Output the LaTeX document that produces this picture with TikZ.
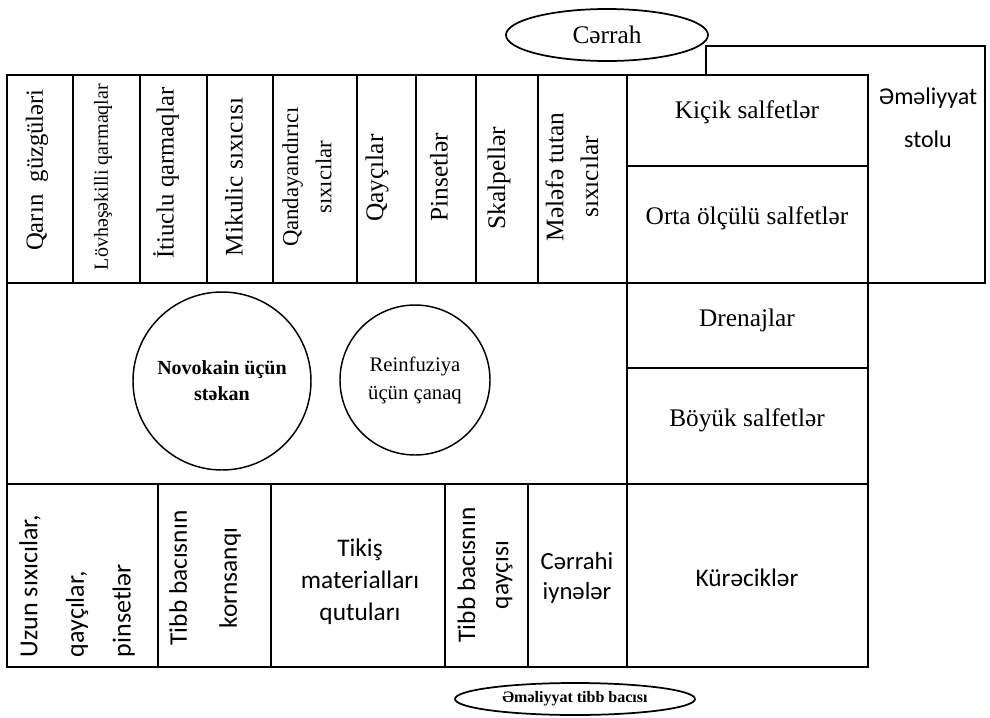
\documentclass[tikz,border=0pt]{standalone}
\usepackage{fontspec}
\setmainfont{Liberation Serif}
\newfontfamily\calfont{Carlito}
\usepackage{tikz}
\usepackage{xcolor}
\usetikzlibrary{shapes.geometric}

\begin{document}
\begin{tikzpicture}[x=0.75pt,y=0.75pt,yscale=-1,xscale=1,
    wall/.style={line width=1.5pt},
    vtxt/.style={rotate=90,inner sep=0.75pt,align=center},
    htxt/.style={inner sep=0.75pt,align=center}]
    \useasboundingbox (0,0) rectangle (990,718);

    %Shape: Rectangle [table, partly hidden]
    \draw [line width=1.3pt] (706,46) rectangle (985,283) ;
    \fill [white] (627,75) rectangle (868,283) ;

    %Shape: Rectangle [outer frame]
    \draw [wall] (7,75) rectangle (868,667) ;
    %Straight Lines
    \draw [wall] (7,283) -- (868,283) ;
    %Straight Lines
    \draw [wall] (7,484) -- (868,484) ;
    %Straight Lines
    \draw [wall] (627,75) -- (627,667) ;
    %Straight Lines
    \draw [wall] (627,166) -- (868,166) ;
    %Straight Lines
    \draw [wall] (627,368) -- (868,368) ;

    %Straight Lines [top row]
    \draw [wall] (73,75) -- (73,283) ;
    \draw [wall] (140,75) -- (140,283) ;
    \draw [wall] (207,75) -- (207,283) ;
    \draw [wall] (273,75) -- (273,283) ;
    \draw [wall] (357,75) -- (357,283) ;
    \draw [wall] (416,75) -- (416,283) ;
    \draw [wall] (476,75) -- (476,283) ;
    \draw [wall] (538,75) -- (538,283) ;

    %Straight Lines [bottom row]
    \draw [wall] (158,484) -- (158,667) ;
    \draw [wall] (271,484) -- (271,667) ;
    \draw [wall] (445,484) -- (445,667) ;
    \draw [wall] (528,484) -- (528,667) ;

    % Ellipse Nodes
    \node [draw, ellipse, line width=1.3pt, minimum width=151.5pt, minimum height=39pt, inner sep=0pt, font={\fontsize{19}{22}\selectfont}] (cerrah) at (607,35) {Cərrah};
    \node [draw, ellipse, line width=1.3pt, minimum width=180pt, minimum height=24pt, inner sep=0pt, font={\fontsize{12}{14}\selectfont\bfseries}] (bacisi) at (575,699) {Əməliyyat tibb bacısı};

    % Circle Nodes
    \node [draw, circle, line width=1.1pt, minimum size=133.5pt, inner sep=0pt, align=center, font={\fontsize{15}{19.5}\selectfont\bfseries}] (novokain) at (222,381) {Novokain üçün\\ stəkan};
    \node [draw, circle, line width=1.1pt, minimum size=112.5pt, inner sep=0pt, align=center, font={\fontsize{15.5}{21}\selectfont}] (canaq) at (415,380) {Reinfuziya\\ üçün çanaq};

    % Text Node
    \draw (37,170) node (qarin) [vtxt, font={\fontsize{18.5}{22}\selectfont}] {Qarın\ \ güzgüləri};
    % Text Node
    \draw (103,177) node (lovhe) [vtxt, font={\fontsize{15}{18}\selectfont}] {Lövhəşəkilli qarmaqlar};
    % Text Node
    \draw (166,173) node (itiuclu) [vtxt, font={\fontsize{18.5}{22}\selectfont}] {İtiuclu qarmaqlar};
    % Text Node
    \draw (234,177) node (mikulic) [vtxt, font={\fontsize{19}{22}\selectfont}] {Mikulic sıxıcısı};
    % Text Node
    \draw (307,177) node (qandaya) [vtxt, font={\fontsize{17}{25}\selectfont}] {Qandayandırıcı\\ sıxıcılar};
    % Text Node
    \draw (377,178) node (qaycilar) [vtxt, font={\fontsize{19}{22}\selectfont}] {Qayçılar};
    % Text Node
    \draw (439,177) node (pinset) [vtxt, font={\fontsize{19}{22}\selectfont}] {Pinsetlər};
    % Text Node
    \draw (499,178) node (skalpel) [vtxt, font={\fontsize{19}{22}\selectfont}] {Skalpellər};
    % Text Node
    \draw (572,177) node (melefe) [vtxt, font={\fontsize{19}{26}\selectfont}] {Mələfə tutan\\ sıxıcılar};

    % Text Node
    \draw (747,112) node (kicik) [htxt, font={\fontsize{19}{22}\selectfont}] {Kiçik salfetlər};
    % Text Node
    \draw (747,218) node (orta) [htxt, font={\fontsize{19}{22}\selectfont}] {Orta ölçülü salfetlər};
    % Text Node
    \draw (747,320) node (drenaj) [htxt, font={\fontsize{19}{22}\selectfont}] {Drenajlar};
    % Text Node
    \draw (747,420) node (boyuk) [htxt, font={\fontsize{19}{22}\selectfont}] {Böyük salfetlər};
    % Text Node
    \draw (747,578) node (kurecik) [htxt, font={\calfont\fontsize{19}{22}\selectfont}] {Kürəciklər};
    % Text Node
    \draw (928,118) node (stol) [htxt, font={\calfont\fontsize{18}{32}\selectfont}] {Əməliyyat\\ stolu};

    % Text Node
    \draw (77,586) node (uzun) [vtxt, align=left, font={\calfont\fontsize{19.5}{35}\selectfont}] {Uzun sıxıcılar,\\ qayçılar,\\ pinsetlər};
    % Text Node
    \draw (205,578) node (korsanq) [vtxt, font={\calfont\fontsize{19}{37.5}\selectfont}] {Tibb bacısnın\\ kornsanqı};
    % Text Node
    \draw (360,582) node (tikis) [htxt, font={\calfont\fontsize{19}{24}\selectfont}] {Tikiş\\ materialları\\ qutuları};
    % Text Node
    \draw (485,575) node (qaycisi) [vtxt, font={\calfont\fontsize{19}{25}\selectfont}] {Tibb bacısnın\\ qayçısı};
    % Text Node
    \draw (577,578) node (iyne) [htxt, font={\calfont\fontsize{18.5}{23}\selectfont}] {Cərrahi\\ iynələr};

\end{tikzpicture}
\end{document}
